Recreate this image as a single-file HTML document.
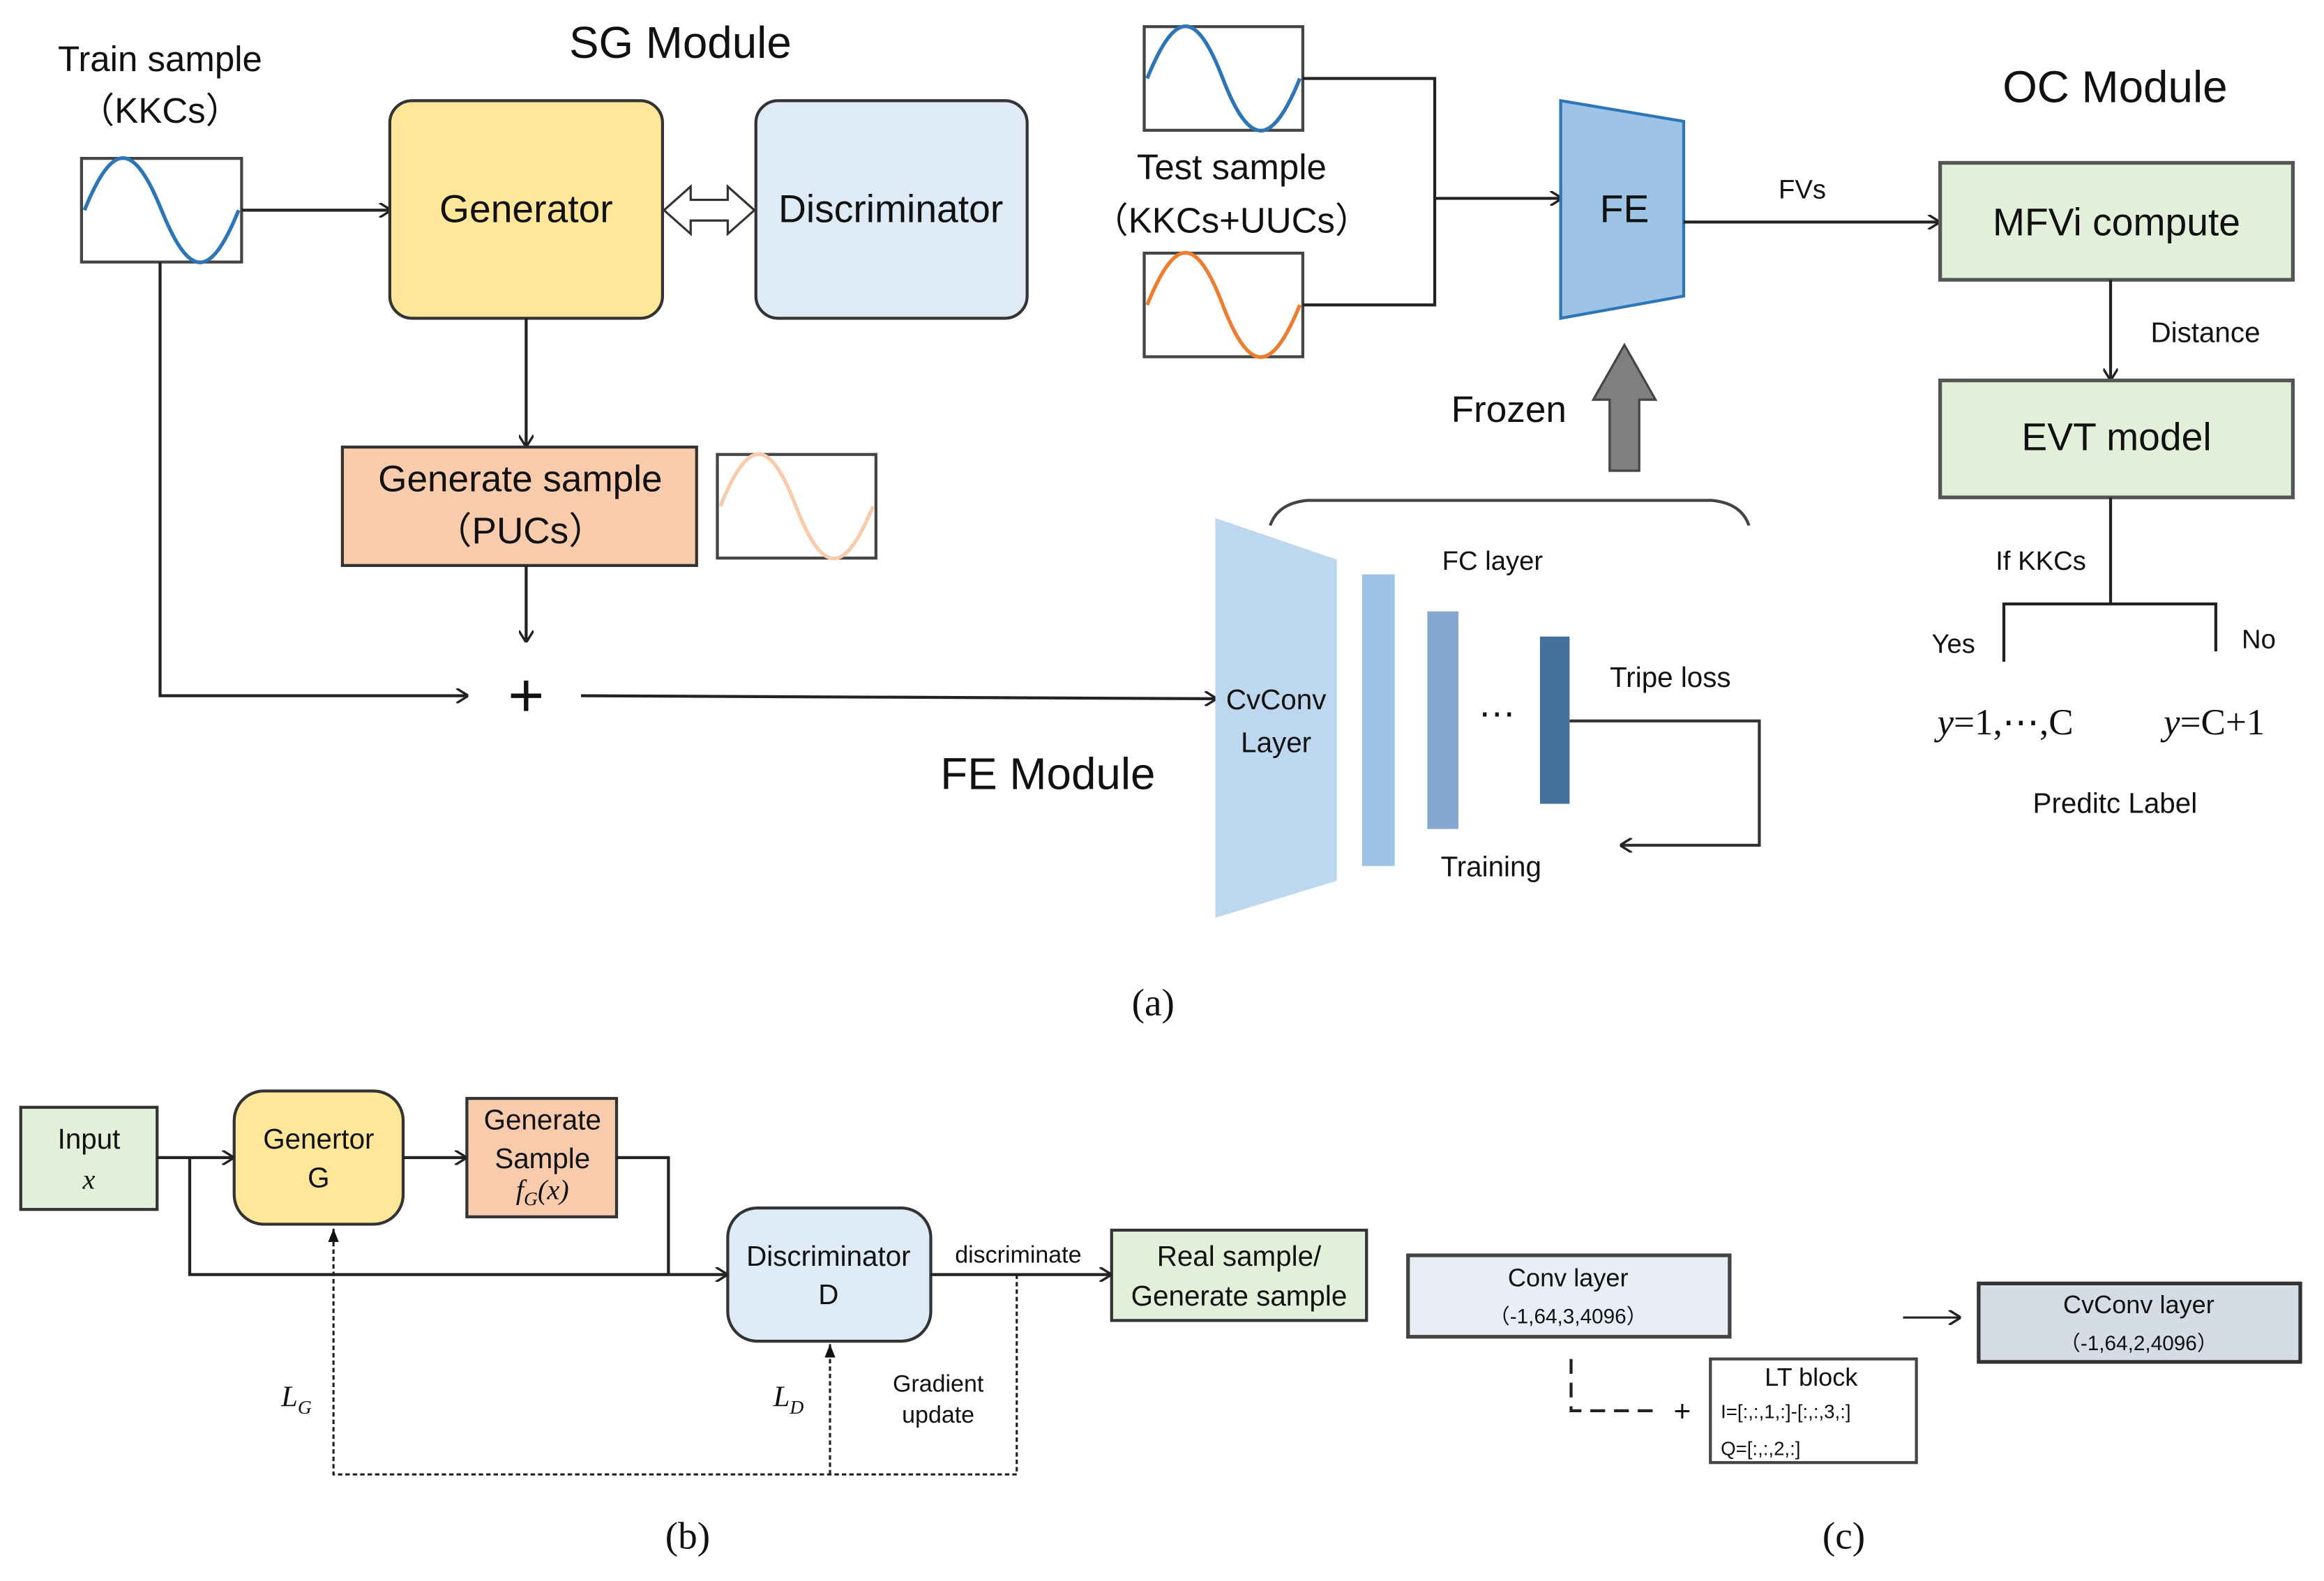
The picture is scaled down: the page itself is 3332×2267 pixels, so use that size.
<!DOCTYPE html>
<html><head><meta charset="utf-8"><style>
html,body{margin:0;padding:0;background:#fff;}
svg{display:block;}
text{font-family:"Liberation Sans","Noto Sans CJK SC",sans-serif;fill:#111;}
.s{font-family:"Liberation Serif",serif;}
</style></head><body>
<svg width="3332" height="2267" viewBox="0 0 1568 1068" preserveAspectRatio="none" xmlns="http://www.w3.org/2000/svg">
<defs>
<marker id="oa" viewBox="0 0 10 10" refX="10" refY="5" markerWidth="10" markerHeight="10" markerUnits="userSpaceOnUse" orient="auto"><path d="M2,0 L10,5 L2,10" fill="none" stroke="#222" stroke-width="1.6"/></marker>
<marker id="fa" viewBox="0 0 10 10" refX="10" refY="5" markerWidth="9" markerHeight="12" markerUnits="userSpaceOnUse" orient="auto"><path d="M0,1 L10,5 L0,9 z" fill="#111"/></marker>
</defs>
<g stroke="#222" stroke-width="2" fill="none">
<rect x="55" y="107" width="108" height="70" fill="#fff" stroke="#444"/>
<path d="M57,142 C76,95 90,95 109,142 C128,189 142,189 161,142" stroke="#2E75B6" stroke-width="2.5"/>
<line x1="163" y1="142" x2="264" y2="142" marker-end="url(#oa)"/>
<rect x="263" y="68" width="184" height="147" rx="15" fill="#FFE699" stroke="#333"/>
<rect x="510" y="68" width="183" height="147" rx="15" fill="#DEEBF7" stroke="#333"/>
<path d="M448,142 L466,126 L466,135 L491,135 L491,126 L509,142 L491,158 L491,149 L466,149 L466,158 Z" fill="#fff" stroke="#333" stroke-width="1.5"/>
<line x1="355" y1="215" x2="355" y2="302" marker-end="url(#oa)"/>
<rect x="231" y="302" width="239" height="80" fill="#F8CBAD" stroke="#333"/>
<rect x="484" y="307" width="107" height="70" fill="#fff" stroke="#444"/>
<path d="M486,342 C505,295 519,295 537,342 C555,389 570,389 589,342" stroke="#F8CBAD" stroke-width="2.5"/>
<line x1="355" y1="382" x2="355" y2="434" marker-end="url(#oa)"/>
<path d="M108,177 L108,470 L316,470" marker-end="url(#oa)"/>
<line x1="392" y1="470" x2="821" y2="472" marker-end="url(#oa)"/>
<rect x="772" y="18" width="107" height="70" fill="#fff" stroke="#444"/>
<path d="M774,53 C793,6 807,6 825,53 C843,100 858,100 877,53" stroke="#2E75B6" stroke-width="2.5"/>
<rect x="772" y="171" width="107" height="70" fill="#fff" stroke="#444"/>
<path d="M774,206 C793,159 807,159 825,206 C843,253 858,253 877,206" stroke="#ED7D31" stroke-width="2.5"/>
<path d="M879,53 L968,53 L968,206 L879,206"/>
<line x1="968" y1="134" x2="1054" y2="134" marker-end="url(#oa)"/>
<polygon points="1053,68 1136,82 1136,200 1053,215" fill="#9DC3E6" stroke="#2E75B6"/>
<line x1="1136" y1="150" x2="1309" y2="150" marker-end="url(#oa)"/>
<rect x="1309" y="110" width="238" height="79" fill="#E2F0D9" stroke="#555" stroke-width="2.5"/>
<line x1="1424" y1="189" x2="1424" y2="257" marker-end="url(#oa)"/>
<rect x="1309" y="257" width="238" height="79" fill="#E2F0D9" stroke="#555" stroke-width="2.5"/>
<path d="M1424,336 L1424,408 M1352,447 L1352,408 L1495,408 L1495,440"/>
<path d="M1086,318 L1086,270 L1075,270 L1096,233 L1117,270 L1106,270 L1106,318 Z" fill="#7F7F7F" stroke="#444" stroke-width="1.5"/>
<path d="M857,355 Q862,340 882,338 L1155,338 Q1175,340 1180,355" stroke="#444"/>
<polygon points="820,350 902,378 902,595 820,620" fill="#BDD7EE" stroke="none"/>
<rect x="919" y="388" width="22" height="197" fill="#9DC3E6" stroke="none"/>
<rect x="963" y="413" width="21" height="147" fill="#86A8D0" stroke="none"/>
<rect x="1039" y="430" width="20" height="113" fill="#44719C" stroke="none"/>
<path d="M1059,487 L1187,487 L1187,571 L1093,571" marker-end="url(#oa)" stroke="#333"/>
<rect x="14" y="748" width="92" height="69" fill="#E2F0D9" stroke="#333"/>
<rect x="158" y="737" width="114" height="90" rx="20" fill="#FFE699" stroke="#333"/>
<rect x="315" y="742" width="101" height="80" fill="#F8CBAD" stroke="#333"/>
<rect x="491" y="816" width="137" height="90" rx="20" fill="#DEEBF7" stroke="#333"/>
<rect x="750" y="831" width="172" height="61" fill="#E2F0D9" stroke="#333"/>
<line x1="106" y1="782" x2="158" y2="782" marker-end="url(#oa)"/>
<line x1="272" y1="782" x2="315" y2="782" marker-end="url(#oa)"/>
<path d="M416,782 L451,782 L451,861"/>
<path d="M128,782 L128,861 L491,861" marker-end="url(#oa)"/>
<line x1="628" y1="861" x2="750" y2="861" marker-end="url(#oa)"/>
<path d="M686,861 L686,996 L225,996 L225,830" stroke-dasharray="3,2" stroke-width="1.5" marker-end="url(#fa)"/>
<path d="M560,996 L560,908" stroke-dasharray="3,2" stroke-width="1.5" marker-end="url(#fa)"/>
<rect x="950" y="848" width="217" height="55" fill="#E9EEF6" stroke="#444" stroke-width="2.5"/>
<rect x="1154" y="918" width="139" height="70" fill="#fff" stroke="#444"/>
<rect x="1335" y="867" width="217" height="53" fill="#D6DCE5" stroke="#333" stroke-width="2.5"/>
<path d="M1060,918 L1060,953 L1115,953" stroke-dasharray="10,6"/>
<line x1="1284" y1="890" x2="1323" y2="890" marker-end="url(#oa)" stroke-width="1.5"/>
</g>
<g text-anchor="middle">
<text x="108" y="48" font-size="24">Train sample</text>
<text x="108" y="83" font-size="24">（KKCs）</text>
<text x="459" y="39" font-size="30">SG Module</text>
<text x="355" y="150" font-size="26">Generator</text>
<text x="601" y="150" font-size="26">Discriminator</text>
<text x="351" y="332" font-size="25">Generate sample</text>
<text x="351" y="367" font-size="25">（PUCs）</text>
<text x="355" y="484" font-size="42">+</text>
<text x="831" y="121" font-size="24">Test sample</text>
<text x="831" y="157" font-size="24">（KKCs+UUCs）</text>
<text x="1096" y="150" font-size="26">FE</text>
<text x="1216" y="134" font-size="18">FVs</text>
<text x="1427" y="69" font-size="30">OC Module</text>
<text x="1428" y="159" font-size="26">MFVi compute</text>
<text x="1488" y="231" font-size="19">Distance</text>
<text x="1428" y="304" font-size="26">EVT model</text>
<text x="1377" y="385" font-size="18">If KKCs</text>
<text x="1318" y="441" font-size="18">Yes</text>
<text x="1524" y="438" font-size="18">No</text>
<text x="1353" y="496" font-size="25" class="s"><tspan font-style="italic">y</tspan>=1,⋯,C</text>
<text x="1494" y="496" font-size="25" class="s"><tspan font-style="italic">y</tspan>=C+1</text>
<text x="1427" y="549" font-size="19">Preditc Label</text>
<text x="1018" y="285" font-size="25">Frozen</text>
<text x="861" y="479" font-size="19">CvConv</text>
<text x="861" y="508" font-size="19">Layer</text>
<text x="1007" y="385" font-size="18">FC layer</text>
<text x="1010" y="484" font-size="26">…</text>
<text x="1127" y="464" font-size="19">Tripe loss</text>
<text x="1006" y="592" font-size="19">Training</text>
<text x="707" y="533" font-size="30">FE Module</text>
<text x="778" y="686" font-size="26" class="s">(a)</text>
<text x="60" y="776" font-size="19">Input</text>
<text x="60" y="803" font-size="19" class="s" font-style="italic">x</text>
<text x="215" y="776" font-size="19">Genertor</text>
<text x="215" y="802" font-size="19">G</text>
<text x="366" y="763" font-size="19">Generate</text>
<text x="366" y="789" font-size="19">Sample</text>
<text x="366" y="810" font-size="19" class="s" font-style="italic">f<tspan font-size="13" dy="4">G</tspan><tspan dy="-4">(x)</tspan></text>
<text x="559" y="855" font-size="19">Discriminator</text>
<text x="559" y="881" font-size="19">D</text>
<text x="687" y="853" font-size="16">discriminate</text>
<text x="836" y="855" font-size="19">Real sample/</text>
<text x="836" y="882" font-size="19">Generate sample</text>
<text x="200" y="950" font-size="20" class="s" font-style="italic">L<tspan font-size="13" dy="5">G</tspan></text>
<text x="532" y="950" font-size="20" class="s" font-style="italic">L<tspan font-size="13" dy="5">D</tspan></text>
<text x="633" y="940" font-size="16">Gradient</text>
<text x="633" y="961" font-size="16">update</text>
<text x="464" y="1046" font-size="26" class="s">(b)</text>
<text x="1058" y="869" font-size="17">Conv layer</text>
<text x="1058" y="894" font-size="14">（-1,64,3,4096）</text>
<text x="1135" y="960" font-size="20">+</text>
<text x="1222" y="936" font-size="17">LT block</text>
<text x="1443" y="887" font-size="17">CvConv layer</text>
<text x="1443" y="912" font-size="14">（-1,64,2,4096）</text>
<text x="1244" y="1046" font-size="26" class="s">(c)</text>
</g>
<text x="1161" y="958" font-size="13">I=[:,:,1,:]-[:,:,3,:]</text>
<text x="1161" y="983" font-size="13">Q=[:,:,2,:]</text>
</svg>
</body></html>
